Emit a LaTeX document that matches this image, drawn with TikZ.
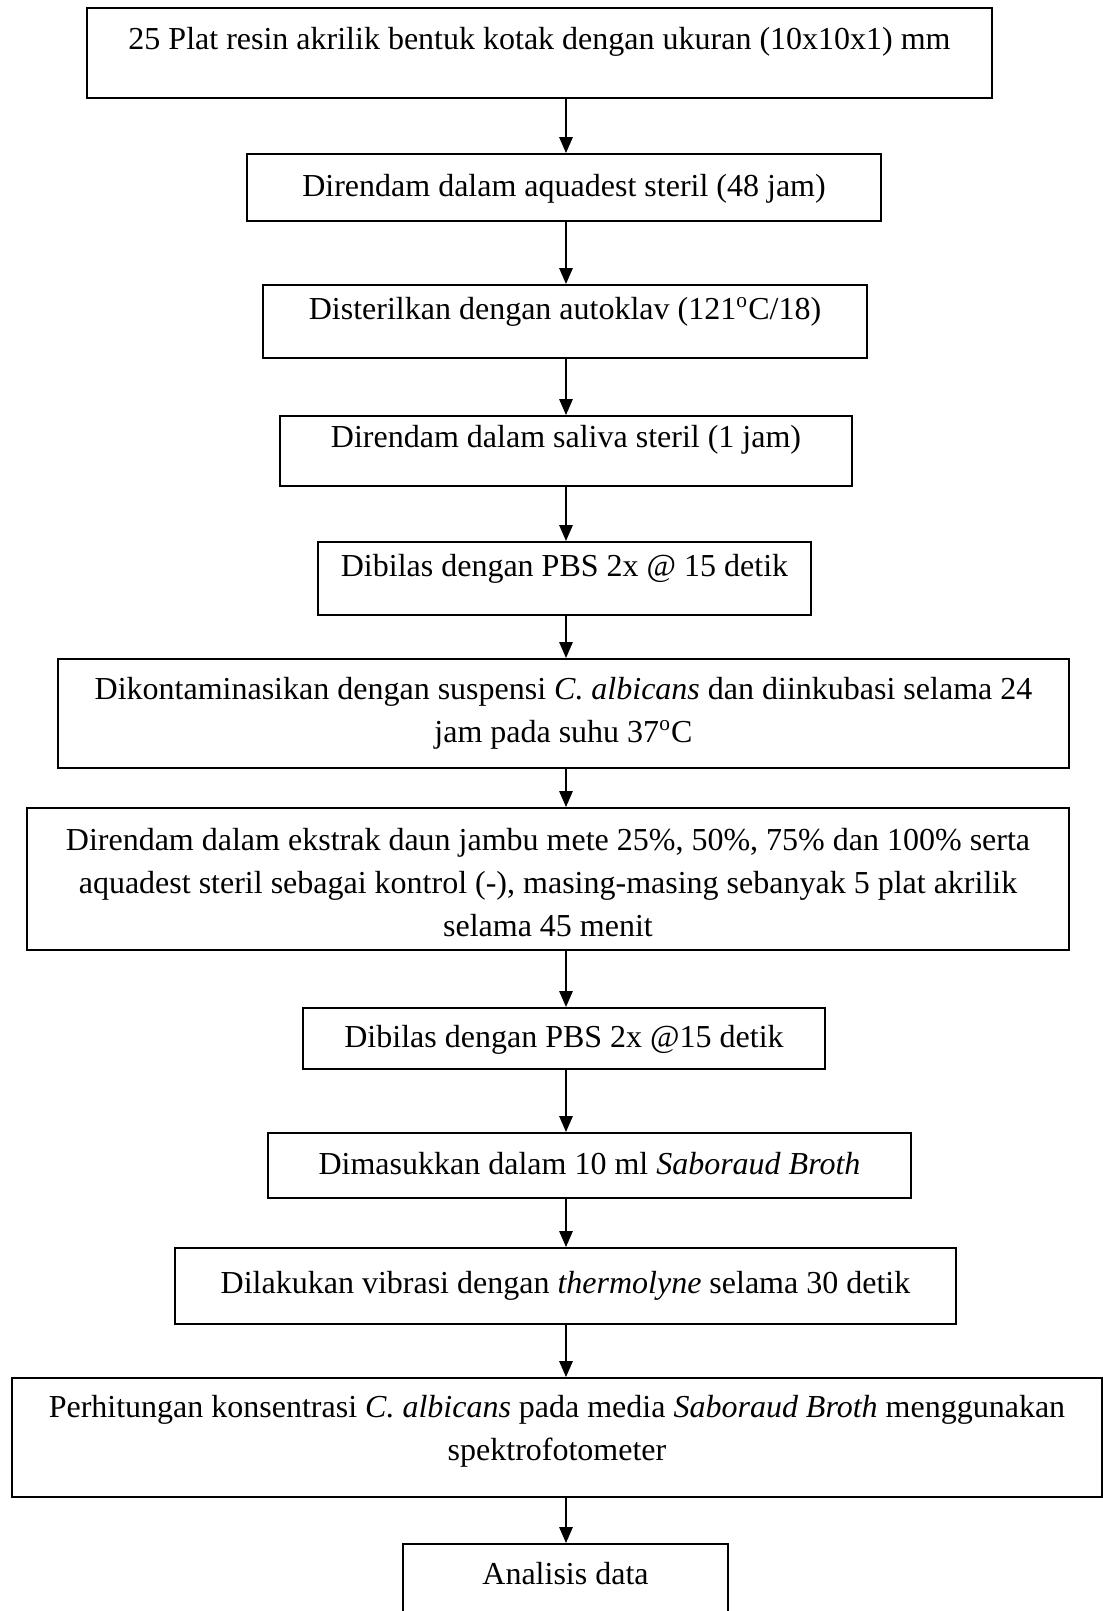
\documentclass[tikz,border=0pt]{standalone}
\usepackage{fontspec}
\setmainfont{Liberation Serif}
\usetikzlibrary{arrows.meta}

\tikzset{
  kotak/.style={draw, line width=0.7pt, inner sep=0pt},
  teks/.style={font=\fontsize{12}{16}\selectfont, align=center, anchor=base, inner sep=0pt},
  panah/.style={-{Triangle[width=5pt,length=6pt]}, line width=0.7pt}
}

\begin{document}
\begin{tikzpicture}[x=0.375pt, y=-0.375pt]
\useasboundingbox (0,0) rectangle (1103,1611);
\coordinate (sumbu) at (566,0);
% kotak
\node[kotak, minimum width=339.4pt, minimum height=33.75pt] (b1) at (539.5,53) {};
\node[kotak, minimum width=237.75pt, minimum height=25.1pt] (b2) at (564,187.5) {};
\node[kotak, minimum width=226.5pt, minimum height=27.4pt] (b3) at (565,321.5) {};
\node[kotak, minimum width=214.5pt, minimum height=26.25pt] (b4) at (566,451) {};
\node[kotak, minimum width=184.9pt, minimum height=27.4pt] (b5) at (564.5,578.5) {};
\node[kotak, minimum width=379.1pt, minimum height=40.9pt] (b6) at (563.5,713.5) {};
\node[kotak, minimum width=390.75pt, minimum height=53.25pt] (b7) at (548,879) {};
\node[kotak, minimum width=195.75pt, minimum height=22.9pt] (b8) at (564,1038.5) {};
\node[kotak, minimum width=241.1pt, minimum height=24.4pt] (b9) at (589.5,1165.5) {};
\node[kotak, minimum width=292.9pt, minimum height=28.5pt] (b10) at (565.5,1286) {};
\node[kotak, minimum width=408.75pt, minimum height=44.6pt] (b11) at (557,1437.5) {};
\node[kotak, minimum width=121.9pt, minimum height=32.25pt] (b12) at (565.5,1587) {};
% teks
\node[teks] (t1) at (539.5,49) {25 Plat resin akrilik bentuk kotak dengan ukuran (10x10x1) mm};
\node[teks] (t2) at (564,196) {Direndam dalam aquadest steril (48 jam)};
\node[teks] (t3) at (565,319) {Disterilkan dengan autoklav (121\textsuperscript{o}C/18)};
\node[teks] (t4) at (566,447) {Direndam dalam saliva steril (1 jam)};
\node[teks] (t5) at (564.5,576) {Dibilas dengan PBS 2x @ 15 detik};
\node[teks] (t6) at (563.5,742) {Dikontaminasikan dengan suspensi \textit{C. albicans} dan diinkubasi selama 24\\
  jam pada suhu 37\textsuperscript{o}C};
\node[teks] (t7) at (548,936) {Direndam dalam ekstrak daun jambu mete 25\%, 50\%, 75\% dan 100\% serta\\
  aquadest steril sebagai kontrol (-), masing-masing sebanyak 5 plat akrilik\\
  selama 45 menit};
\node[teks] (t8) at (564,1047) {Dibilas dengan PBS 2x @15 detik};
\node[teks] (t9) at (589.5,1174) {Dimasukkan dalam 10 ml \textit{Saboraud Broth}};
\node[teks] (t10) at (565.5,1293) {Dilakukan vibrasi dengan \textit{thermolyne} selama 30 detik};
\node[teks] (t11) at (557,1460) {Perhitungan konsentrasi \textit{C. albicans} pada media \textit{Saboraud Broth} menggunakan\\
  spektrofotometer};
\node[teks] (t12) at (565.5,1584) {Analisis data};
% panah
\foreach \a/\b in {b1/b2, b2/b3, b3/b4, b4/b5, b5/b6, b6/b7, b7/b8, b8/b9, b9/b10, b10/b11, b11/b12}
  \draw[panah] (\a.south -| sumbu) -- (\b.north -| sumbu);
\end{tikzpicture}
\end{document}
